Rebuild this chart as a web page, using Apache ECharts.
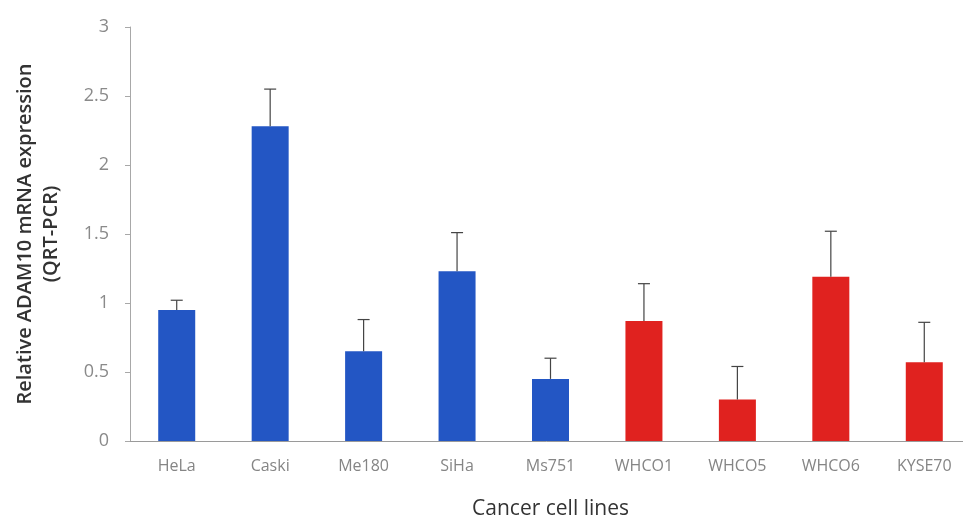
<!DOCTYPE html>
<html>
<head>
<meta charset="utf-8">
<script src="https://cdn.jsdelivr.net/npm/echarts@6/dist/echarts.min.js"></script>
<style>
  html, body { margin: 0; padding: 0; background: #fff; }
  #chart { width: 963px; height: 517px; }
</style>
</head>
<body>
<div id="chart"></div>
<script>
// Cell lines, mean relative expression and upper error (SD)
const cellLines = ['HeLa', 'Caski', 'Me180', 'SiHa', 'Ms751', 'WHCO1', 'WHCO5', 'WHCO6', 'KYSE70'];
const expression = [0.95, 2.28, 0.65, 1.23, 0.45, 0.87, 0.30, 1.19, 0.57];
const errorSD = [0.07, 0.27, 0.23, 0.28, 0.15, 0.27, 0.24, 0.33, 0.29];
// Cervical lines in blue, oesophageal lines in red
const groupColor = ['#2356c4', '#2356c4', '#2356c4', '#2356c4', '#2356c4', '#e0221f', '#e0221f', '#e0221f', '#e0221f'];
const yTicks = [0, 0.5, 1, 1.5, 2, 2.5, 3];

const chart = echarts.init(document.getElementById('chart'));

const barData = expression.map((v, i) => ({ value: v, itemStyle: { color: groupColor[i] } }));
const errData = expression.map((v, i) => [i, v, v + errorSD[i]]);

chart.setOption({
  backgroundColor: '#ffffff',
  animation: false,
  grid: { left: 130, right: -8, top: 27, bottom: 76, containLabel: false, outerBoundsMode: 'none' },
  xAxis: {
    type: 'category',
    data: cellLines,
    name: 'Cancer cell lines',
    nameLocation: 'middle',
    nameGap: 58,
    nameTextStyle: { fontFamily: 'Open Sans', fontSize: 21, color: '#333' },
    axisLine: { lineStyle: { color: '#9a9a9a', width: 1 } },
    axisTick: { show: false },
    axisLabel: { fontFamily: 'Open Sans', fontSize: 16, color: '#858585', margin: 17, interval: 0 }
  },
  yAxis: {
    type: 'value',
    min: yTicks[0],
    max: yTicks[yTicks.length - 1],
    interval: 0.5,
    name: 'Relative ADAM10 mRNA expression\n(QRT-PCR)',
    nameLocation: 'middle',
    nameGap: 66,
    nameRotate: 90,
    nameTextStyle: { fontFamily: 'Open Sans', fontSize: 20, fontWeight: 600, color: '#333', lineHeight: 26 },
    axisLine: { show: true, lineStyle: { color: '#a8a8a8', width: 1 } },
    axisTick: { show: true, length: 5, lineStyle: { color: '#a8a8a8' } },
    splitLine: { show: false },
    axisLabel: { fontFamily: 'Open Sans', fontSize: 18, color: '#8a8a8a', margin: 21 }
  },
  series: [
    {
      type: 'bar',
      data: barData,
      barWidth: 37
    },
    {
      type: 'custom',
      data: errData,
      z: 5,
      renderItem: function (params, api) {
        const x = api.value(0);
        const top = api.coord([x, api.value(2)]);
        const base = api.coord([x, api.value(1)]);
        const half = 6;
        const style = { stroke: '#444', lineWidth: 1.2 };
        return {
          type: 'group',
          children: [
            { type: 'line', shape: { x1: top[0], y1: base[1], x2: top[0], y2: top[1] }, style: style },
            { type: 'line', shape: { x1: top[0] - half, y1: top[1], x2: top[0] + half, y2: top[1] }, style: style }
          ]
        };
      }
    }
  ]
});
</script>
</body>
</html>
